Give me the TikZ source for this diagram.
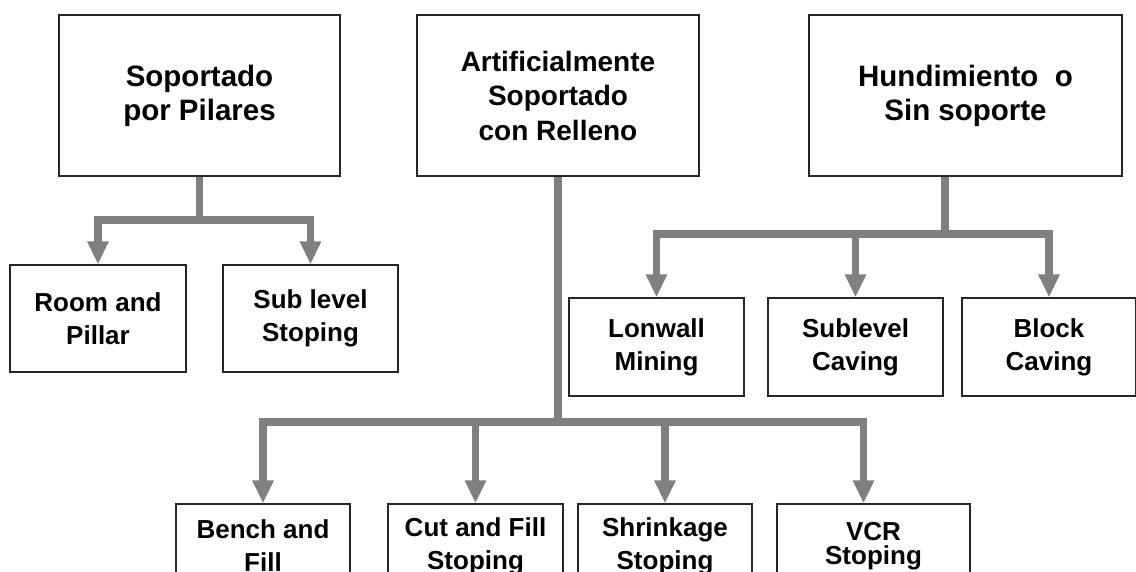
\documentclass[tikz,border=0pt]{standalone}
\usepackage{fontspec}
\setmainfont{Liberation Sans}
\usetikzlibrary{arrows.meta}

\begin{document}
\begin{tikzpicture}[x=1pt, y=-1pt,
    box/.style={draw=black!85, line width=1.2pt, align=center, inner sep=0pt, fill=white,
        font=\bfseries\fontsize{26}{33}\selectfont},
    topbox/.style={box, minimum height=161pt, font=\bfseries\fontsize{29.5}{34}\selectfont},
    midbox/.style={box, minimum width=175pt, minimum height=98pt},
    lowbox/.style={box, minimum width=175pt, minimum height=84pt},
    link/.style={draw=gray, line width=7.5pt},
    arrow/.style={link, line join=miter, -{Triangle[width=20pt,length=23pt]}}]
            \useasboundingbox (0,0) rectangle (1136,572);
            \clip (0,0) rectangle (1136,572);

            \node[topbox, minimum width=281pt] (P) at (199.5,95.5) {Soportado\\por Pilares};
            \node[topbox, minimum width=282pt, font=\bfseries\fontsize{28}{34.5}\selectfont] (R) at (558,95.5) {Artificialmente\\Soportado\\con Relleno};
            \node[topbox, minimum width=313pt] (H) at (965.5,95.5) {Hundimiento\ \ o\\Sin soporte};

            \node[midbox, minimum width=176pt, minimum height=107pt] (RP) at (98,318.5) {Room and\\Pillar};
            \node[midbox, minimum height=107pt] (SS) at (310.5,318.5) {Sub level\\Stoping};
            \node[midbox] (LM) at (656.5,347) {Lonwall\\Mining};
            \node[midbox] (SC) at (855.5,347) {Sublevel\\Caving};
            \node[midbox, minimum width=174pt] (BC) at (1049,347) {Block\\Caving};

            \node[lowbox, minimum width=174pt] (BF) at (263,546) {Bench and\\Fill};
            \node[lowbox] (CF) at (475.5,546) {Cut and Fill\\Stoping};
            \node[lowbox, minimum width=174pt] (SH) at (665,546) {Shrinkage\\Stoping};
            \node[lowbox, minimum width=193pt] (VCR) at (873.5,546) {VCR\\[-9pt]Stoping};

            \coordinate (jP) at (199.5,220);
            \coordinate (jR) at (558,422);
            \coordinate (jH) at (945,234);

            \draw[link] (P.south) -- (jP);
            \draw[arrow] (jP) -| (RP.north);
            \draw[arrow] (jP) -| (SS.north);

            \draw[link] (R.south) -- (jR);
            \draw[arrow] (jR) -| (BF.north);
            \draw[arrow] (jR) -| (CF.north);
            \draw[arrow] (jR) -| (SH.north);
            \draw[arrow] (jR) -| ([xshift=-10pt]VCR.north);

            \draw[link] (H.south -| jH) -- (jH);
            \draw[arrow] (jH) -| (LM.north);
            \draw[arrow] (jH) -| (SC.north);
            \draw[arrow] (jH) -| (BC.north);
        \end{tikzpicture}
\end{document}
